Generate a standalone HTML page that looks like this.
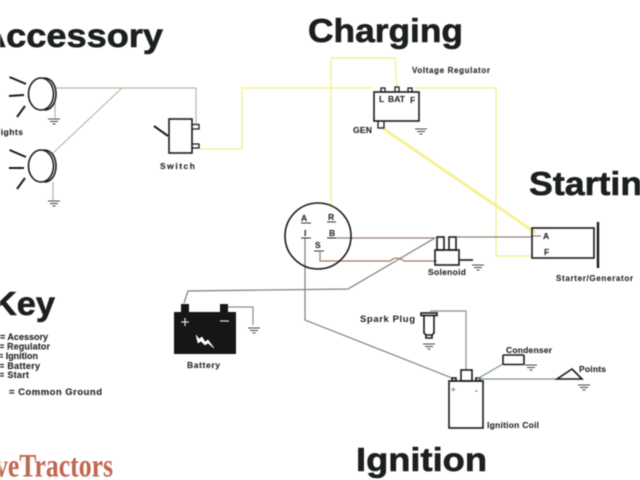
<!DOCTYPE html>
<html><head><meta charset="utf-8"><style>
html,body{margin:0;padding:0;background:#fff;width:640px;height:480px;overflow:hidden}
svg{display:block;filter:blur(.45px)}
text{font-family:"Liberation Sans",sans-serif;font-weight:bold;fill:#1c1f20}
.t{font-size:33px;stroke:#1c1f20;stroke-width:.6}
.s{font-size:8.5px;fill:#2a2c2e;stroke:#2a2c2e;stroke-width:.15}
.k{font-size:9px;fill:#2a2c2e;stroke:#2a2c2e;stroke-width:.15}
.l{fill:none;stroke:#1a1a1a;stroke-width:1.6}
.g{stroke:#444;stroke-width:1;fill:none}
.w{fill:none;stroke-width:1.2}
</style></head><body>
<svg width="640" height="480" viewBox="0 0 640 480" xmlns="http://www.w3.org/2000/svg">
<defs>
<g id="gnd" class="g"><path d="M-6 0H6M-4 2.5H4" stroke-width="1.1"/><path d="M-1.5 5H1.5"/></g>
</defs>
<!-- titles -->
<text class="t" x="-20" y="47" textLength="183" lengthAdjust="spacingAndGlyphs">Accessory</text>
<text class="t" x="308" y="42" textLength="155" lengthAdjust="spacingAndGlyphs">Charging</text>
<text class="t" x="529" y="195" textLength="135" lengthAdjust="spacingAndGlyphs">Starting</text>
<text class="t" x="-8" y="315" textLength="63" lengthAdjust="spacingAndGlyphs">Key</text>
<text class="t" x="356" y="471" textLength="131" lengthAdjust="spacingAndGlyphs">Ignition</text>

<!-- green wires -->
<g class="w" stroke="#aebfa6" stroke-width="1.6">
<path d="M56 88H196V125"/><path d="M122 88L53 153"/>
<path d="M55 100V118M53 182V200" stroke="#aab3ab"/>
</g>
<!-- yellow wires -->
<g class="w" stroke="#f3ef85" stroke-width="1.8">
<path d="M199 149H242V88H372"/>
<path d="M331 210V58H395L397 88"/>
<path d="M415 88H496V256H532"/>
</g>
<path d="M381 127L536 233" fill="none" stroke="#f4f19a" stroke-width="3"/>
<!-- lamps -->
<g class="l" stroke-width="1.6">
<ellipse cx="41" cy="94" rx="12.5" ry="16"/><path d="M44 78C60 78 60 110 44 110"/>
<ellipse cx="41" cy="166" rx="12.5" ry="16"/><path d="M44 150C60 150 60 182 44 182"/>
<path d="M9.5 77L26 84M9 96L24 95M17 117L25 106M9.5 150L26 157M9 168L24 168M17 189L25 178" stroke-width="2"/>
</g>
<use href="#gnd" x="54" y="119"/><use href="#gnd" x="54" y="201"/>
<text class="s" x="-5" y="135" textLength="28">Lights</text>
<!-- switch -->
<g class="l"><rect x="169" y="119" width="23" height="34"/><path d="M154 126L168 136" stroke-width="2"/>
<path d="M192 124.5H199V129H192M192 144H199V148H192" stroke-width="1.3"/></g>
<text class="s" x="160" y="169" textLength="35">Switch</text>
<!-- regulator -->
<g class="l"><rect x="374" y="92" width="45" height="29"/>
<path d="M381 92V88H385V92M395 92V87H399V92M408 92V88H412V92M378 121V128H384V121" stroke-width="1.3"/></g>
<text class="s" x="379" y="102">L</text><text class="s" x="388" y="102" textLength="17">BAT</text><text class="s" x="410" y="103">F</text>
<text class="s" x="353" y="133" textLength="19">GEN</text>
<text class="s" x="412" y="73" textLength="78" style="font-size:8px">Voltage Regulator</text>
<use href="#gnd" x="421" y="129"/>
<!-- ignition switch wires -->
<path d="M327 238H435M457 237H532V236H541" class="w" stroke="#94807a" stroke-width="1.4"/>
<path d="M320 252V261H390Q394 258 396 258Q400 258 404 261H437" class="w" stroke="#a87564" stroke-width="1.4"/>
<path d="M435 238L348 289L188 291L184 303" class="w" stroke="#7e7e7a" stroke-width="1.3"/>
<path d="M305 238V320L452 378" class="w" stroke="#6f7f90" stroke-width="1.4"/>
<circle cx="318" cy="236" r="33" class="l" stroke-width="2.2"/>
<text class="s" x="301" y="221">A</text><text class="s" x="328" y="220">R</text>
<text class="s" x="304" y="236">I</text><text class="s" x="329" y="236">B</text><text class="s" x="315" y="248">S</text>
<path d="M301 223H311M327 222H336M301 238H311M327 238H336M314 251H324" stroke="#333" stroke-width="1"/>
<!-- solenoid -->
<g class="l" stroke-width="1.4"><rect x="437" y="237" width="7" height="13"/><rect x="449" y="237" width="7" height="13"/><rect x="435" y="250" width="24" height="15"/><path d="M459 260H473"/></g>
<use href="#gnd" x="478" y="265"/>
<text class="s" x="428" y="275" textLength="38">Solenoid</text>
<!-- starter -->
<rect x="532" y="228" width="62" height="30" class="l" stroke="#333"/>
<path d="M598 222V268" stroke="#1a1a1a" stroke-width="2.4"/>
<text class="s" x="543" y="239">A</text><text class="s" x="544" y="255">F</text>
<text class="s" x="556" y="281" textLength="77" style="font-size:8px">Starter/Generator</text>
<!-- battery -->
<rect x="174" y="312" width="62" height="42" fill="#141618"/>
<rect x="181" y="304" width="8" height="8" fill="#141618"/><rect x="220" y="304" width="8" height="8" fill="#141618"/>
<path d="M181 322H189M185 318V326M220 321H229" stroke="#d8d8d8" stroke-width="1.3" fill="none"/>
<path d="M196 335L199 339L202 337L205 342L208 340L214 348L208 343L205 345L201 341L198 343Z" fill="#fff" stroke="#fff" stroke-width=".6"/>
<path d="M228 307H253V325" class="w" stroke="#8e8e8a"/>
<use href="#gnd" x="254" y="328"/>
<text class="s" x="187" y="368" textLength="33">Battery</text>
<!-- key -->
<text class="k" x="0" y="340" textLength="48">= Acessory</text>
<text class="k" x="-1" y="349.500" textLength="51">= Regulator</text>
<text class="k" x="-2" y="359" textLength="40">= Ignition</text>
<text class="k" x="-1" y="369" textLength="41">= Battery</text>
<text class="k" x="-1" y="378" textLength="30">= Start</text>
<text class="k" x="9" y="395" textLength="93" style="font-size:9.5px">= Common Ground</text>
<text x="-5" y="476.500" textLength="118" lengthAdjust="spacingAndGlyphs" style="font-family:'Liberation Serif',serif;font-size:33px;fill:#c0664e">veTractors</text>
<!-- ignition -->
<path d="M430 311H466V370" class="w" stroke="#7f8f95" stroke-width="1.6"/>
<g class="l" stroke-width="1.3"><rect x="421" y="313" width="16" height="2.500"/><path d="M424 315.500V333L426 335H432L434 333V315.500"/><path d="M426 335V338H432V335"/></g>
<use href="#gnd" x="429" y="344"/>
<text x="360" y="322" textLength="55" style="font-size:9.500px">Spark Plug</text>
<rect x="449" y="381" width="34" height="47" class="l"/>
<rect x="461" y="370" width="11" height="11" class="l"/>
<rect x="452" y="378" width="4" height="3" class="l" stroke-width="1"/><rect x="476" y="378" width="4" height="3" class="l" stroke-width="1"/>
<text x="451" y="392" style="font-size:8px;fill:#777">+</text><text x="475" y="393" style="font-size:8px;fill:#555">-</text>
<text class="s" x="487" y="428" textLength="52">Ignition Coil</text>
<path d="M477 379L503 364" class="w" stroke="#7f8f95" stroke-width="1.6"/>
<path d="M480 379H557" class="w" stroke="#7f8f95" stroke-width="1.6"/>
<rect x="503" y="355" width="21" height="9.500" rx="1" class="l"/>
<use href="#gnd" x="531" y="365"/>
<text class="s" x="506" y="353" textLength="46">Condenser</text>
<path d="M557 379L572 369L582 379Z" class="l" stroke-width="2"/>
<use href="#gnd" x="584" y="385"/>
<text class="s" x="579" y="372" textLength="27">Points</text>
</svg>
</body></html>
